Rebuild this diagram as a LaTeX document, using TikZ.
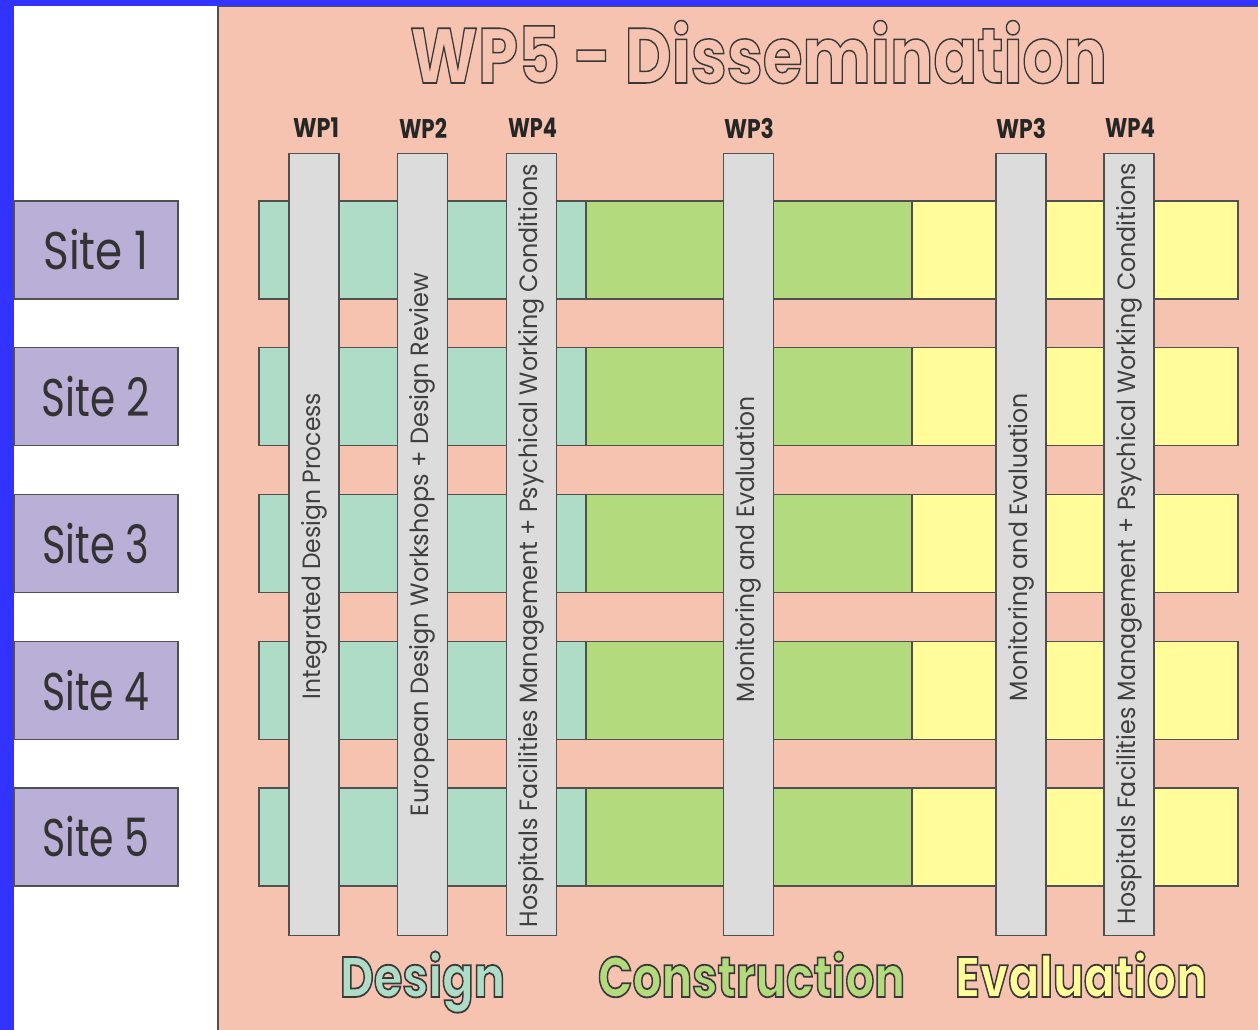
\documentclass[tikz,border=0pt]{standalone}
\usepackage{fontspec}
\setmainfont{Poppins}
\usepackage{graphicx}
\definecolor{bgblue}{HTML}{3333FF}
\definecolor{salmon}{HTML}{F5C3AF}
\definecolor{siteC}{HTML}{B9AFD7}
\definecolor{desC}{HTML}{AFDCC7}
\definecolor{conC}{HTML}{B3DA7D}
\definecolor{evaC}{HTML}{FFFC99}
\definecolor{barC}{HTML}{DCDCDC}
\definecolor{lineC}{HTML}{505050}
\newcommand\outl[3][1.2]{{\color{#2}\special{pdf:literal direct 0.22 0.22 0.22 RG #1 w 2 Tr}#3\special{pdf:literal direct 0 Tr}}}
\newcommand\fitw[2]{\resizebox{#1pt}{\height}{#2}}
\begin{document}
\begin{tikzpicture}[x=1pt,y=-1pt,
  outbox/.style={draw=lineC, line width=1.3pt, inner sep=0pt, outer sep=0pt, anchor=north west},
  seg/.style={outbox, minimum height=98},
  sitebox/.style={outbox, fill=siteC, minimum width=164, minimum height=98, font=\fontsize{53}{53}\selectfont, text=black!80},
  bar/.style={draw=lineC, line width=1.3pt, fill=barC, inner sep=0pt, minimum width=50, minimum height=782, anchor=north},
  vtext/.style={rotate=90, inner sep=0pt, font=\fontsize{25}{25}\selectfont, text=black!75},
  wplab/.style={inner sep=0pt, font=\fontsize{27}{27}\selectfont\bfseries, text=black!85},
  phase/.style={inner sep=0pt, font=\fontsize{57}{57}\selectfont\bfseries}]
\useasboundingbox (0,0) rectangle (1258,1030);
\fill[bgblue] (0,0) rectangle (1258,1030);
\fill[white] (14,6) rectangle (1262,1034);
\node[outbox, fill=salmon, minimum width=1045, minimum height=1030] (panel) at (218,6.5) {};
% rows and sites
\foreach \i in {1,...,5}{
  \pgfmathsetmacro\yy{201+(\i-1)*146.75}
  \node[seg, fill=desC, minimum width=327] (r\i des) at (259,\yy) {};
  \node[seg, fill=conC, minimum width=326] (r\i con) at (586,\yy) {};
  \node[seg, fill=evaC, minimum width=326] (r\i eva) at (912,\yy) {};
}
\node[sitebox] (site1) at (14,201) {\fitw{105}{Site 1}};
\node[sitebox] (site2) at (14,347.75) {\fitw{108}{Site 2}};
\node[sitebox] (site3) at (14,494.5) {\fitw{107}{Site 3}};
\node[sitebox] (site4) at (14,641.25) {\fitw{107}{Site 4}};
\node[sitebox] (site5) at (14,788) {\fitw{107}{Site 5}};
% bars
\node[bar] (b1) at (314,153) {};
\node[bar] (b2) at (422.5,153) {};
\node[bar] (b3) at (531.5,153) {};
\node[bar] (b4) at (748.5,153) {};
\node[bar] (b5) at (1021,153) {};
\node[bar] (b6) at (1129,153) {};
% bar texts
\node[vtext] (t1) at (314,546) {\fitw{306}{Integrated Design Process}};
\node[vtext] (t2) at (422.5,544.5) {\fitw{543}{European Design Workshops + Design Review}};
\node[vtext] (t3) at (531.5,545.5) {\fitw{763}{Hospitals Facilities Management + Psychical Working Conditions}};
\node[vtext] (t4) at (748.5,549) {\fitw{306}{Monitoring and Evaluation}};
\node[vtext] (t5) at (1021,547) {\fitw{308}{Monitoring and Evaluation}};
\node[vtext] (t6) at (1129,543.5) {\fitw{761}{Hospitals Facilities Management + Psychical Working Conditions}};
% WP labels
\node[wplab] (l1) at (316,128) {\fitw{46}{WP1}};
\node[wplab] (l2) at (423,128) {\fitw{48}{WP2}};
\node[wplab] (l3) at (532.5,128) {\fitw{49}{WP4}};
\node[wplab] (l4) at (749,128) {\fitw{50}{WP3}};
\node[wplab] (l5) at (1021,128) {\fitw{50}{WP3}};
\node[wplab] (l6) at (1130,128) {\fitw{50}{WP4}};
% phase labels
\node[phase, anchor=base] (pd) at (422.5,997) {\fitw{165}{\outl[1.8]{desC}{Design}}};
\node[phase, anchor=base] (pc) at (751.5,997) {\fitw{307}{\outl[1.8]{conC}{Construction}}};
\node[phase, anchor=base] (pe) at (1081,997) {\fitw{252}{\outl[1.8]{evaC}{Evaluation}}};
% title
\node[inner sep=0pt, anchor=base, font=\fontsize{78}{78}\selectfont\bfseries] (title) at (758.5,83) {\fitw{697}{\outl[1.5]{salmon}{WP5 - Dissemination}}};
\end{tikzpicture}
\end{document}
